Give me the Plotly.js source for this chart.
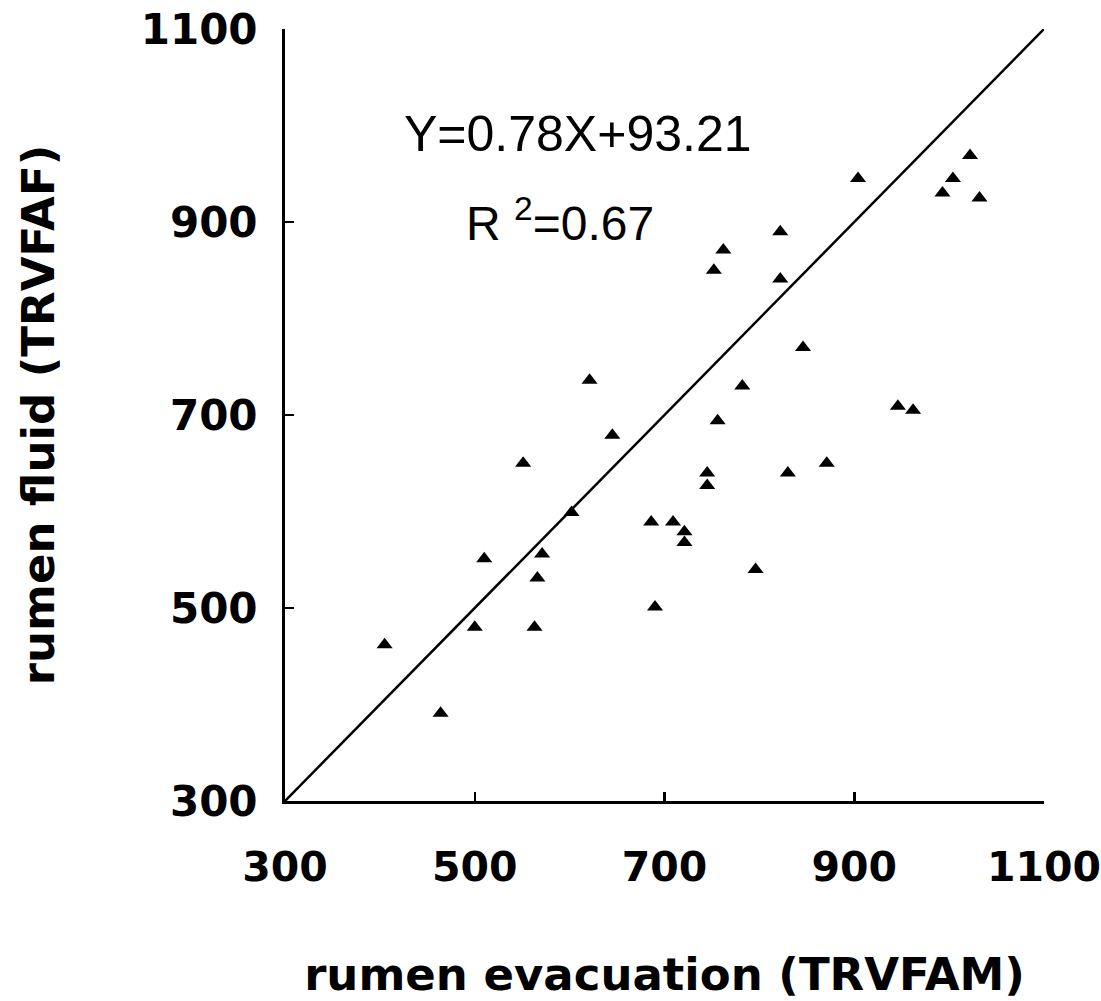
<!DOCTYPE html>
<html>
<head>
<meta charset="utf-8">
<script src="https://cdn.plot.ly/plotly-3.0.1.min.js"></script>
<style>html,body{margin:0;padding:0;background:#fff;}#chart{width:1101px;height:1001px;}</style>
</head>
<body>
<div id="chart"></div>
<script>
// rumen evacuation (TRVFAM) values
const trvfam = [405, 464, 500, 510, 563, 566, 571, 551, 602, 621, 645, 686, 690, 709, 721, 721, 745, 745, 756, 782, 796, 822, 822, 752, 762, 830, 846, 871, 904, 946, 962, 993, 1004, 1022, 1032];
// rumen fluid (TRVFAF) values
const trvfaf = [462, 391, 480, 551, 480, 531, 556, 650, 599, 736, 679, 589, 501, 589, 579, 568, 640, 627, 694, 730, 540, 890, 841, 850, 871, 640, 770, 650, 945, 709, 705, 930, 945, 969, 925];
// 1:1 reference line
const lineX = [300, 1100];
const lineY = [300, 1100];
const tickVals = [300, 500, 700, 900, 1100];
const tickText = ['300', '500', '700', '900', '1100'];
const eqText = 'Y=0.78X+93.21';
const r2Text = 'R <sup>2</sup>=0.67';

const xTickFont = {family: 'DejaVu Sans', size: 41, color: '#000', weight: 'bold'};
const yTickFont = {family: 'DejaVu Sans', size: 42, color: '#000', weight: 'bold'};
const titleFont = {family: 'DejaVu Sans', size: 45, color: '#000', weight: 'bold'};

const data = [
  {x: lineX, y: lineY, mode: 'lines', type: 'scatter', line: {color: '#000', width: 2.5}, hoverinfo: 'skip', cliponaxis: false},
  {x: trvfam, y: trvfaf, mode: 'markers', type: 'scatter', marker: {symbol: 'triangle-up', size: 14, color: '#000'}, cliponaxis: false}
];

const layout = {
  width: 1101, height: 1001,
  margin: {l: 285, r: 57, t: 29, b: 200},
  paper_bgcolor: '#fff', plot_bgcolor: '#fff',
  showlegend: false,
  xaxis: {
    range: [300, 1100], tickvals: tickVals, ticktext: tickText,
    showgrid: false, zeroline: false, showline: true, linecolor: '#000', linewidth: 3,
    ticks: 'inside', ticklen: 9, tickwidth: 2.5, tickcolor: '#000',
    tickfont: xTickFont, ticklabelstandoff: 28, ticklabeloverflow: 'allow', automargin: false,
    title: {text: 'rumen evacuation (TRVFAM)', font: titleFont, standoff: 70}
  },
  yaxis: {
    range: [300, 1100], tickvals: tickVals, ticktext: tickText,
    showgrid: false, zeroline: false, showline: true, linecolor: '#000', linewidth: 3,
    ticks: 'inside', ticklen: 9, tickwidth: 2.5, tickcolor: '#000',
    tickfont: yTickFont, ticklabelstandoff: 16, ticklabeloverflow: 'allow', automargin: false,
    title: {text: 'rumen fluid (TRVFAF)', font: titleFont, standoff: 72}
  },
  annotations: [
    {x: 609, y: 991, xref: 'x', yref: 'y', text: eqText, showarrow: false, xanchor: 'center', yanchor: 'middle',
     font: {family: 'Liberation Sans', size: 50, color: '#000'}},
    {x: 590, y: 902, xref: 'x', yref: 'y', text: r2Text, showarrow: false, xanchor: 'center', yanchor: 'middle',
     font: {family: 'Liberation Sans', size: 48, color: '#000'}}
  ]
};

Plotly.newPlot('chart', data, layout, {displayModeBar: false, staticPlot: true});
</script>
</body>
</html>
